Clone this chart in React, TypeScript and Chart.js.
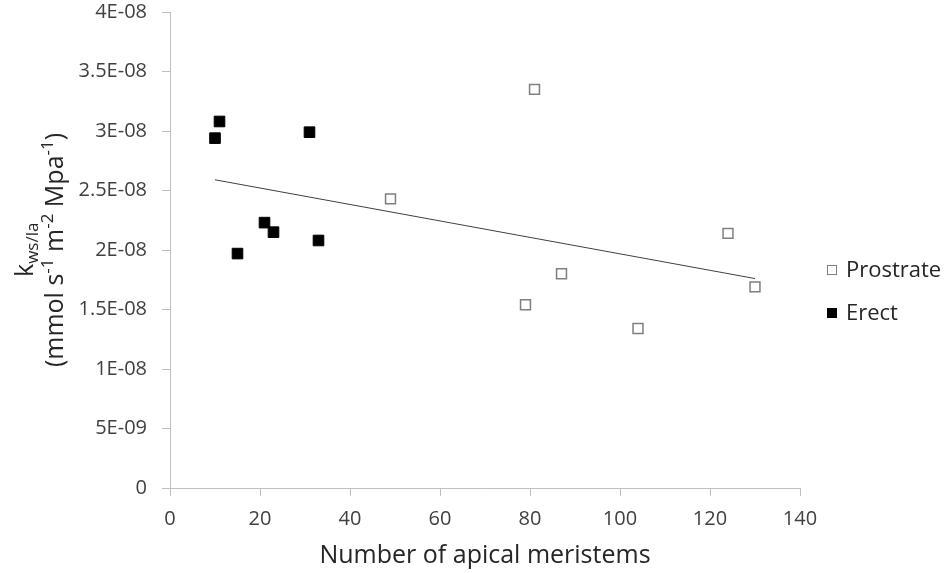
import React, { useEffect, useRef } from "react";
import { Chart, registerables } from "chart.js";

Chart.register(...registerables);

const prostrateX = [49, 81, 79, 87, 104, 124, 130];
const prostrateY = [2.43e-8, 3.35e-8, 1.54e-8, 1.8e-8, 1.34e-8, 2.14e-8, 1.69e-8];
const erectX = [10, 11, 15, 21, 23, 31, 33];
const erectY = [2.94e-8, 3.08e-8, 1.97e-8, 2.23e-8, 2.15e-8, 2.99e-8, 2.08e-8];
const trendX = [10, 130];
const trendY = [2.59e-8, 1.76e-8];
const yTickLabels = ["0", "5E-09", "1E-08", "1.5E-08", "2E-08", "2.5E-08", "3E-08", "3.5E-08", "4E-08"];
const xTickLabels = ["0", "20", "40", "60", "80", "100", "120", "140"];
const seriesNames = ["Prostrate", "Erect"];
const xTitle = "Number of apical meristems";

const FONT = "'Open Sans', 'Noto Sans', sans-serif";
const AXIS = "#bfbfbf";
const TEXT = "#404040";
const TITLE = "#262626";

const titlesPlugin = {
  id: "titles",
  afterDraw(chart: any) {
    const ctx = chart.ctx as CanvasRenderingContext2D;
    const area = chart.chartArea;
    ctx.save();
    ctx.fillStyle = TITLE;
    // X title
    ctx.font = `25px ${FONT}`;
    ctx.textAlign = "center";
    ctx.textBaseline = "alphabetic";
    ctx.fillText(xTitle, (area.left + area.right) / 2, 563);

    // Y title (rotated)
    const big = `25px ${FONT}`;
    const small = `17px ${FONT}`;
    ctx.textAlign = "left";
    const drawRun = (
      runs: { t: string; f: string; dy: number }[],
      baseX: number,
      anchorY: number,
      centered: boolean
    ) => {
      let total = 0;
      for (const r of runs) {
        ctx.font = r.f;
        total += ctx.measureText(r.t).width;
      }
      ctx.save();
      ctx.translate(baseX, anchorY);
      ctx.rotate(-Math.PI / 2);
      let pos = centered ? -total / 2 : 0;
      for (const r of runs) {
        ctx.font = r.f;
        ctx.fillText(r.t, pos, r.dy);
        pos += ctx.measureText(r.t).width;
      }
      ctx.restore();
    };
    drawRun(
      [
        { t: "k", f: big, dy: 0 },
        { t: "ws/la", f: small, dy: 5 },
      ],
      33,
      277,
      false
    );
    drawRun(
      [
        { t: "(mmol s", f: big, dy: 0 },
        { t: "-1", f: small, dy: -10 },
        { t: " m", f: big, dy: 0 },
        { t: "-2", f: small, dy: -10 },
        { t: " Mpa", f: big, dy: 0 },
        { t: "-1", f: small, dy: -10 },
        { t: ")", f: big, dy: 0 },
      ],
      63,
      250,
      true
    );

    // Legend
    const items = [
      { name: seriesNames[0], fill: "#ffffff", stroke: "#7f7f7f", y: 270 },
      { name: seriesNames[1], fill: "#000000", stroke: "#000000", y: 313 },
    ];
    ctx.font = `22px ${FONT}`;
    ctx.textBaseline = "middle";
    ctx.textAlign = "left";
    for (const it of items) {
      ctx.fillStyle = it.fill;
      ctx.strokeStyle = it.stroke;
      ctx.lineWidth = 1;
      ctx.fillRect(827.5, it.y - 4.5, 9, 9);
      ctx.strokeRect(827.5, it.y - 4.5, 9, 9);
      ctx.fillStyle = TITLE;
      ctx.fillText(it.name, 846, it.y + 1);
    }
    ctx.restore();
  },
};

export default function App() {
  const ref = useRef<HTMLCanvasElement>(null);
  useEffect(() => {
    if (!ref.current) return;
    const chart = new Chart(ref.current, {
      type: "scatter",
      data: {
        datasets: [
          {
            label: "Trend",
            data: trendX.map((x, i) => ({ x, y: trendY[i] })),
            showLine: true,
            borderColor: "#404040",
            borderWidth: 1,
            pointRadius: 0,
            order: 0,
          },
          {
            label: seriesNames[0],
            data: prostrateX.map((x, i) => ({ x, y: prostrateY[i] })),
            pointStyle: "rect",
            pointRadius: 7,
            backgroundColor: "#ffffff",
            borderColor: "#7f7f7f",
            borderWidth: 1.5,
            order: 1,
          },
          {
            label: seriesNames[1],
            data: erectX.map((x, i) => ({ x, y: erectY[i] })),
            pointStyle: "rect",
            pointRadius: 7.5,
            backgroundColor: "#000000",
            borderColor: "#000000",
            borderWidth: 1,
            order: 2,
          },
        ],
      },
      options: {
        animation: false,
        responsive: false,
        maintainAspectRatio: false,
        layout: { padding: { top: 12, right: 146, left: 0, bottom: 0 } },
        plugins: { legend: { display: false }, tooltip: { enabled: false } },
        scales: {
          x: {
            type: "linear",
            min: 0,
            max: 140,
            ticks: {
              stepSize: 20,
              color: TEXT,
              font: { family: FONT, size: 20 },
              padding: 11,
              maxRotation: 0,
              callback: (_v: any, i: number) => xTickLabels[i],
            },
            grid: { drawOnChartArea: false, drawTicks: true, tickLength: 8, color: AXIS },
            border: { color: AXIS, width: 1 },
            afterFit: (s: any) => {
              s.height = 85;
              s.paddingLeft = 0;
              s.paddingRight = 0;
            },
          },
          y: {
            type: "linear",
            min: 0,
            max: 4e-8,
            ticks: {
              stepSize: 5e-9,
              color: TEXT,
              font: { family: FONT, size: 20 },
              padding: 15,
              callback: (_v: any, i: number) => yTickLabels[i],
            },
            grid: { drawOnChartArea: false, drawTicks: true, tickLength: 8, color: AXIS },
            border: { color: AXIS, width: 1 },
            afterFit: (s: any) => {
              s.width = 170;
              s.paddingTop = 0;
              s.paddingBottom = 0;
            },
          },
        },
      },
      plugins: [titlesPlugin],
    });
    return () => chart.destroy();
  }, []);
  return (
    <div style={{ position: "fixed", left: 0, top: 0, width: 946, height: 573, background: "#fff" }}>
      <canvas ref={ref} width={946} height={573} style={{ width: 946, height: 573 }} />
    </div>
  );
}
